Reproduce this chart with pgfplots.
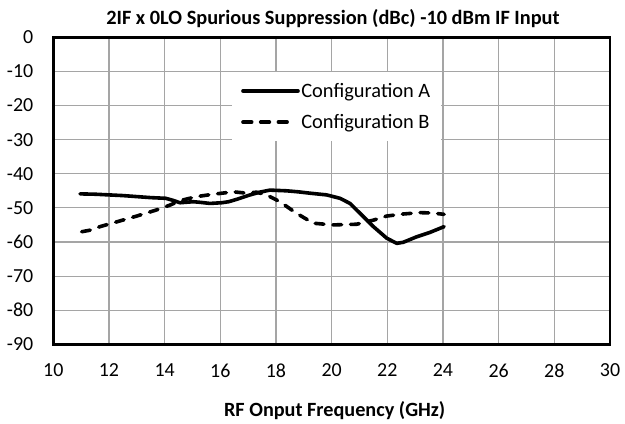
\documentclass[border=0pt]{standalone}
\usepackage{pgfplots}
\pgfplotsset{compat=1.18}
\usepackage{fontspec}
\setmainfont{Carlito}
\definecolor{gridgray}{RGB}{165,165,165}
\pgfplotsset{
  legA/.style={legend image code/.code={\draw[##1] (0bp,0bp) -- (55bp,0bp);}},
  legB/.style={legend image code/.code={\draw[##1] (0bp,0bp) -- (48bp,0bp);}},
}
\begin{document}
\begin{tikzpicture}
\path[use as bounding box] (0,0) rectangle (625bp,424bp);
\begin{axis}[
  at={(53.3bp,79.7bp)}, anchor=south west,
  scale only axis, width=556.7bp, height=307bp,
  xmin=10, xmax=30, ymin=-90, ymax=0,
  xtick={10,12,...,30}, ytick={-90,-80,...,0},
  grid=major,
  major grid style={color=gridgray, line width=1.1bp},
  axis line style={line width=2.8bp, black},
  major tick length=0pt,
  /pgf/number format/assume math mode=true,
  tick label style={font=\fontsize{20}{24}\selectfont},
  xticklabel style={yshift=-16bp},
  yticklabel style={xshift=-16.5bp},
  every axis title/.style={at={(0.5,1)}, anchor=base, yshift=13.3bp, xshift=1.3bp, font=\fontsize{20.4}{24}\selectfont},
  title={\textbf{2IF x 0LO Spurious Suppression (dBc) -10 dBm IF Input}},
  every axis x label/.style={at={(0.5,0)}, anchor=base, yshift=-71.7bp, xshift=3bp, font=\fontsize{20.3}{24}\selectfont},
  xlabel={\textbf{RF Onput Frequency (GHz)}},
  legend cell align=left,
  legend style={at={(0.321,0.887)}, anchor=north west, draw=none, fill=white,
    inner xsep=9bp, inner ysep=9.5bp, font=\fontsize{20.5}{24}\selectfont,
    row sep=12.5bp, column sep=0pt, nodes={inner sep=1.5bp}},
]
\addplot[black, line width=3.6bp, line join=round, line cap=round, legA]
coordinates {
(10.96,-45.9)(11.5,-46.0)(12,-46.2)(12.5,-46.4)(13,-46.7)(13.5,-47.0)(14.04,-47.2)
(14.3,-47.8)(14.55,-48.5)(15.03,-48.2)(15.3,-48.4)(15.63,-48.7)(16.05,-48.5)(16.3,-48.2)
(16.59,-47.5)(17.07,-46.2)(17.42,-45.4)(17.78,-44.8)(18.38,-45.0)(18.8,-45.3)(19.22,-45.7)
(19.82,-46.2)(20.3,-47.2)(20.66,-48.7)(21.02,-51.6)(21.5,-55.5)(21.98,-58.9)(22.34,-60.4)
(22.57,-60.1)(23.05,-58.5)(23.53,-57.2)(24.04,-55.5)
};
\addlegendentry{Configuration A}
\addplot[black, line width=3.6bp, line join=round, line cap=round, dash pattern=on 8.7bp off 9bp, legB]
coordinates {
(11.02,-57.0)(11.35,-56.5)(11.68,-55.5)(12.28,-54.1)(13,-52.4)(13.71,-50.6)(14.19,-49.2)
(14.55,-47.9)(15.15,-46.7)(15.75,-46.0)(16.47,-45.3)(16.95,-45.7)(17.3,-45.4)(17.66,-46.2)
(18.14,-48.2)(18.74,-51.6)(19.34,-54.5)(20.04,-55.0)(20.9,-54.8)(21.5,-53.6)(21.98,-52.4)
(22.57,-51.8)(23.17,-51.4)(23.6,-51.5)(24.04,-51.9)
};
\addlegendentry{Configuration B}
\end{axis}
\end{tikzpicture}
\end{document}
